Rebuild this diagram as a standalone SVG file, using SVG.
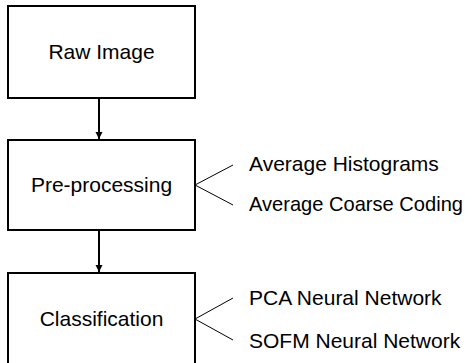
<svg xmlns="http://www.w3.org/2000/svg" width="475" height="363" viewBox="0 0 475 363">
<style>
.box{fill:#fff;stroke:#000;stroke-width:2}
.t{font-family:"Liberation Sans",Arial,sans-serif;font-size:21px;fill:#000}
.c{text-anchor:middle}
.fan{stroke:#000;stroke-width:1;fill:none}
.arr{stroke:#000;stroke-width:2;fill:none}
</style>
<defs>
<marker id="ah" markerWidth="7" markerHeight="10" refX="7" refY="5" orient="auto" markerUnits="userSpaceOnUse">
<path d="M0,1.5 L7,5 L0,8.5 Z" fill="#000"/>
</marker>
</defs>
<g id="raw-image">
<rect class="box" x="8" y="6" width="187" height="92"/>
<text class="t c" x="101.5" y="59">Raw Image</text>
</g>
<g id="pre-processing">
<rect class="box" x="8" y="140" width="187" height="90"/>
<text class="t c" x="101.5" y="192">Pre-processing</text>
<text class="t" x="249" y="171">Average Histograms</text>
<text class="t" x="249" y="211" textLength="214" lengthAdjust="spacingAndGlyphs">Average Coarse Coding</text>
</g>
<g id="classification">
<rect class="box" x="8" y="273" width="187" height="92"/>
<text class="t c" x="101.5" y="326">Classification</text>
<text class="t" x="249" y="305">PCA Neural Network</text>
<text class="t" x="249" y="348">SOFM Neural Network</text>
</g>
<g id="connectors">
<line class="arr" x1="99" y1="99" x2="99" y2="139" marker-end="url(#ah)"/>
<line class="arr" x1="99" y1="231" x2="99" y2="272" marker-end="url(#ah)"/>
<polyline class="fan" points="233,165 195,185 233,205"/>
<polyline class="fan" points="233,298 195,319 233,340"/>
</g>
</svg>
